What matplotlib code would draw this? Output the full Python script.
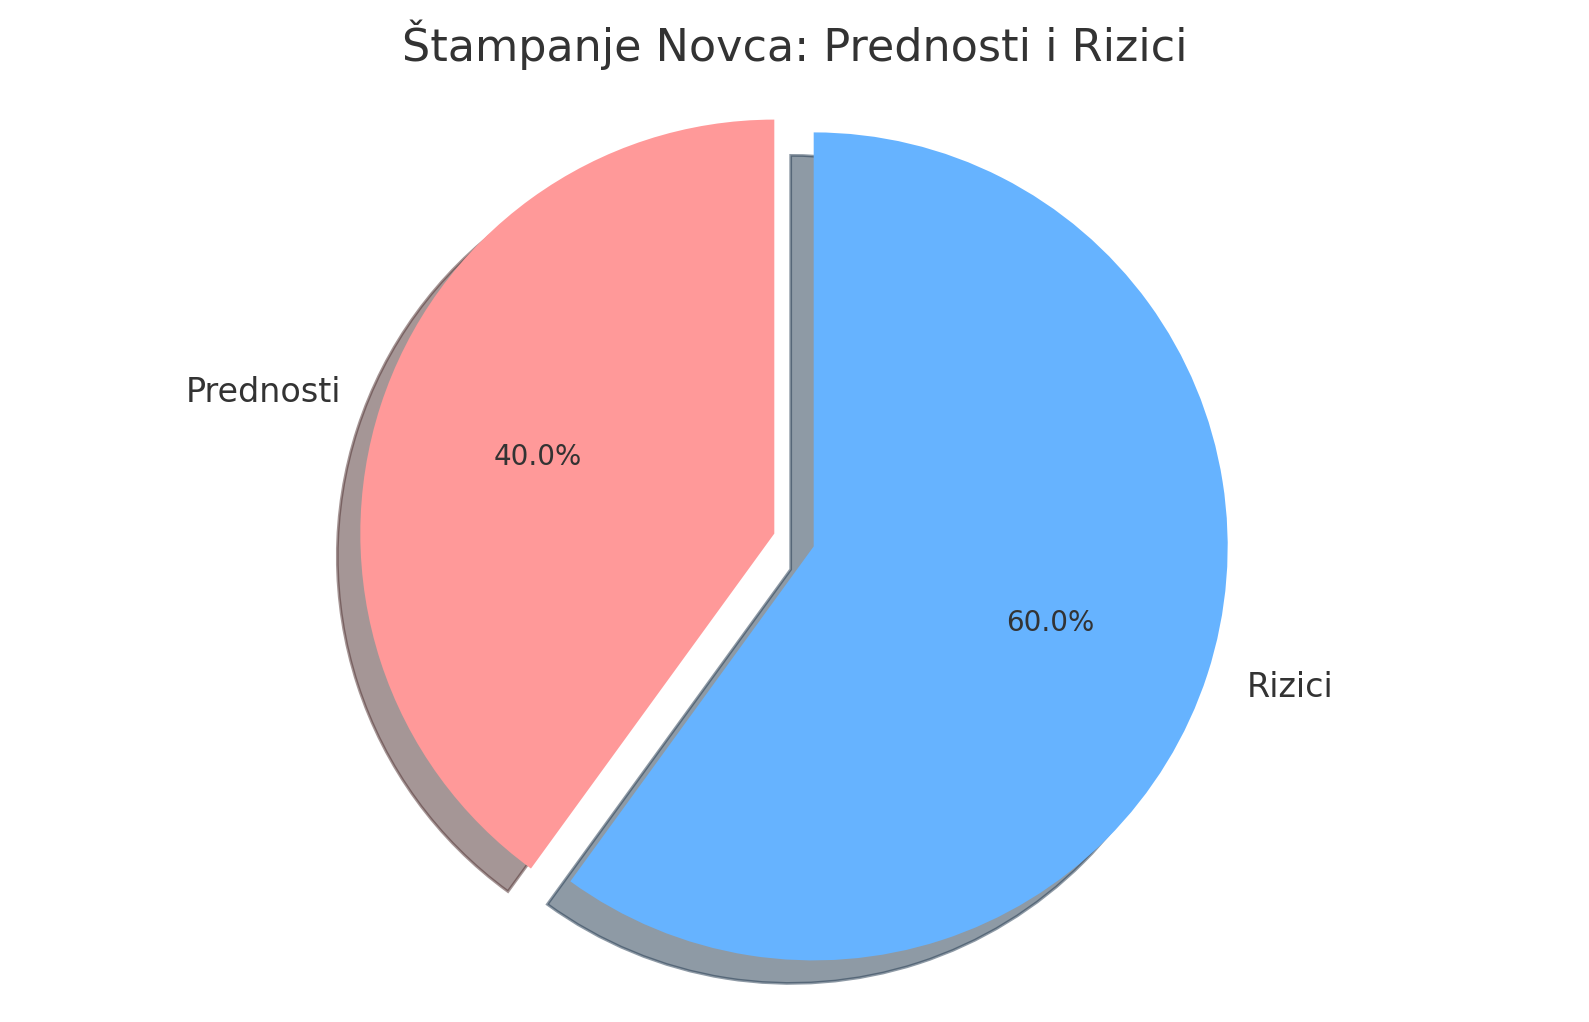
import matplotlib
matplotlib.use("Agg")
import matplotlib.pyplot as plt

# Chart data
labels = ['Prednosti', 'Rizici']
sizes = [40, 60]
colors = ['#ff9999', '#66b3ff']
explode = (0.05, 0.05)
title = 'Štampanje Novca: Prednosti i Rizici'

W, H, DPI = 1589, 1022, 200
fig = plt.figure(figsize=(W / DPI, H / DPI), dpi=DPI)
ax = fig.add_axes([0, 0, 1, 1])

wedges, texts, autotexts = ax.pie(sizes, explode=explode, labels=labels, colors=colors,
                                  autopct='%1.1f%%', shadow=True, startangle=90,
                                  textprops={'color': '#333333'})
for t in texts:
    t.set_fontsize(12)
for t in autotexts:
    t.set_fontsize(10)

# place the pie: centre at (794, 540) px, radius 414 px
cx, cy, r = 794, 540, 414
ax.set_xlim(-cx / r, (W - cx) / r)
ax.set_ylim(-(H - cy) / r, cy / r)
ax.axis('off')

fig.text(0.5, 1 - 45 / H, title, ha='center', va='center', fontsize=16, color='#333333')

fig.savefig('out.png', dpi=DPI)
